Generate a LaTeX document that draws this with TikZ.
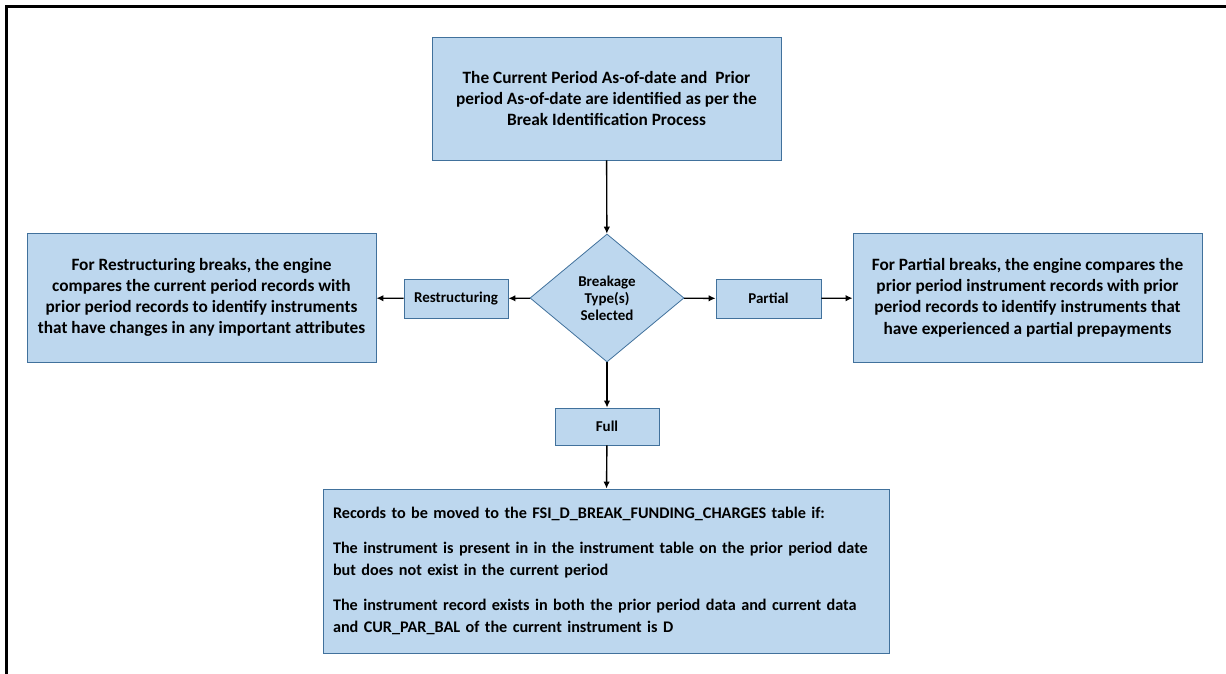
\documentclass[tikz,border=0pt]{standalone}
\usepackage{fontspec}
\setmainfont{Carlito}
\usetikzlibrary{shapes.geometric, arrows.meta}
\definecolor{boxfill}{HTML}{BDD7EE}
\definecolor{boxline}{HTML}{41719C}
\tikzset{
  box/.style={draw=boxline, fill=boxfill, line width=0.8pt, inner sep=0pt, align=center,
    font=\bfseries\fontsize{17.3}{21.2}\selectfont},
  tag/.style={box, font=\bfseries\fontsize{15}{18}\selectfont},
  decision/.style={box, diamond, font=\bfseries\fontsize{15}{17}\selectfont},
  link/.style={line width=1.4pt, -{Latex[length=7pt,width=6.5pt]}}
}
\begin{document}
\begin{tikzpicture}[x=1pt, y=-1pt]
  \useasboundingbox (0,0) rectangle (1226,674);
  \draw[line width=3pt] (6,674) -- (6,7) -- (1226,7);
  \node[box, minimum width=349pt, minimum height=123pt] (asof) at (606.5,98.5)
    {The Current Period As-of-date and~ Prior\\period As-of-date are identified as per the\\Break Identification Process};
  \node[decision, minimum width=154pt, minimum height=128pt] (brk) at (607,298)
    {Breakage\\Type(s)\\Selected};
  \node[tag, minimum width=104pt, minimum height=39pt] (restr) at (456,298.5) {Restructuring};
  \node[tag, minimum width=105pt, minimum height=39pt] (part) at (768.5,298.5) {Partial};
  \node[tag, minimum width=104pt, minimum height=37pt] (full) at (607,426.5) {Full};
  \node[box, minimum width=349pt, minimum height=129pt] (restrtxt) at (201.5,297.5)
    {For Restructuring breaks, the engine\\compares the current period records with\\prior period records to identify instruments\\that have changes in any important attributes};
  \node[box, minimum width=349pt, minimum height=129pt] (parttxt) at (1027.5,297.5)
    {For Partial breaks, the engine compares the\\prior period instrument records with prior\\period records to identify instruments that\\have experienced a partial prepayments};
  \node[box, align=left, text width=546pt, inner xsep=10pt, minimum height=164pt,
    font=\bfseries\fontsize{16.2}{22}\selectfont] (rec) at (606,571)
    {Records to be moved to the FSI\_D\_BREAK\_FUNDING\_CHARGES table if:\\[13pt]
     The instrument is present in in the instrument table on the prior period date\\but does not exist in the current period\\[13pt]
     The instrument record exists in both the prior period data and current data\\and CUR\_PAR\_BAL of the current instrument is D};
  \draw[link] (asof) -- (brk);
  \draw[link] (brk) -- (restr);
  \draw[link] (restr) -- (restrtxt);
  \draw[link] (brk) -- (part);
  \draw[link] (part) -- (parttxt);
  \draw[link] (brk) -- (full);
  \draw[link] (full) -- (rec);
\end{tikzpicture}
\end{document}
